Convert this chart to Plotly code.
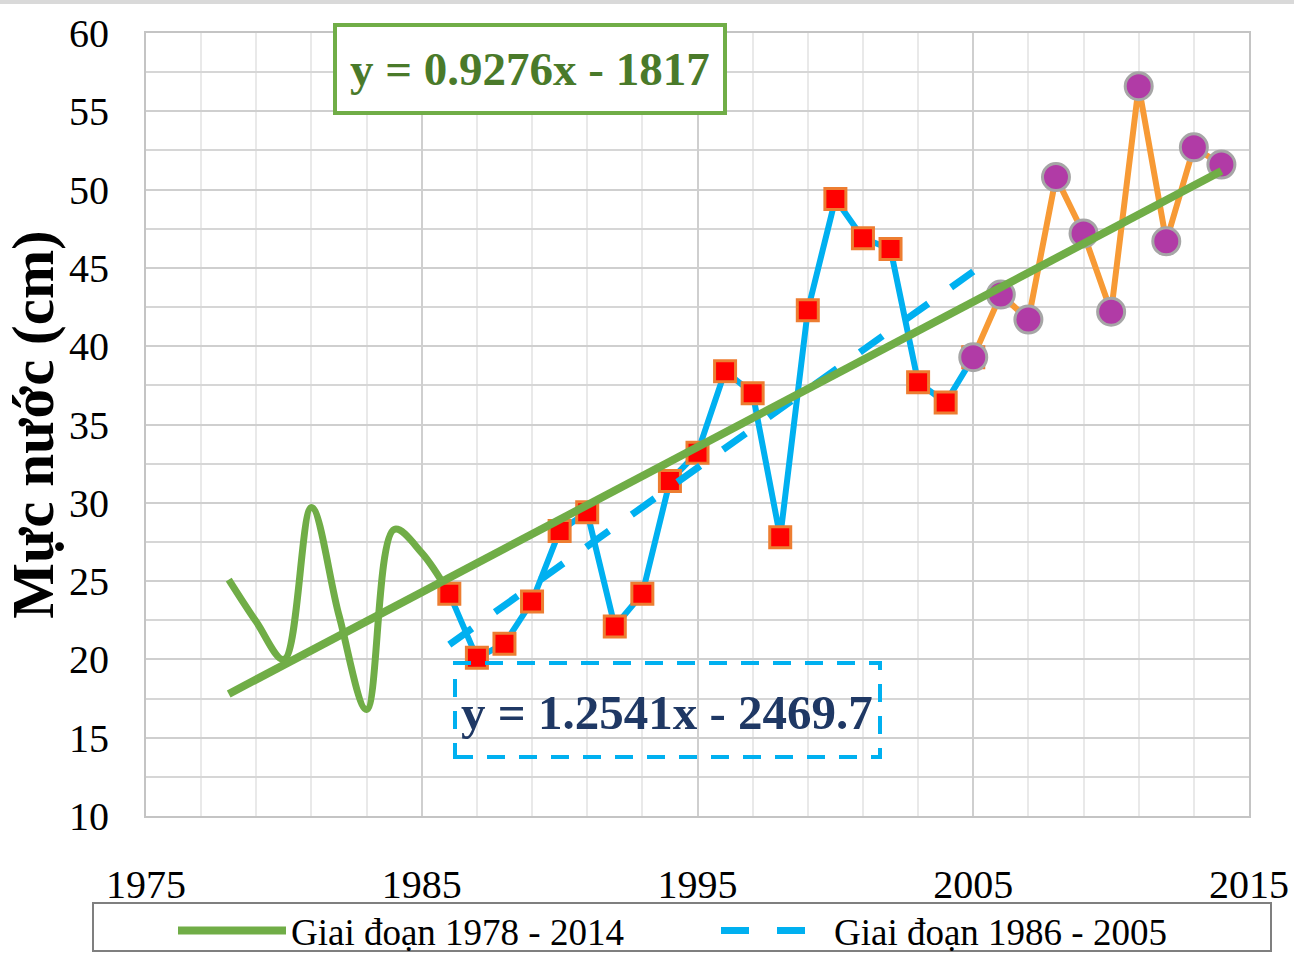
import plotly.graph_objects as go

FONT = "Liberation Serif, Times New Roman, serif"

# ---- data ----
years_early = [1978, 1979, 1980, 1981, 1982, 1983, 1984, 1985, 1986]
level_early = [25.1, 22.4, 20.0, 29.7, 22.8, 16.8, 28.3, 26.8, 24.2]

years_mid = [1986, 1987, 1988, 1989, 1990, 1991, 1992, 1993, 1994, 1995,
             1996, 1997, 1998, 1999, 2000, 2001, 2002, 2003, 2004, 2005]
level_mid = [24.2, 20.1, 21.0, 23.7, 28.2, 29.4, 22.1, 24.2, 31.4, 33.2,
             38.4, 37.0, 27.8, 42.3, 49.4, 46.9, 46.2, 37.7, 36.4, 39.3]

years_late = [2005, 2006, 2007, 2008, 2009, 2010, 2011, 2012, 2013, 2014]
level_late = [39.3, 43.3, 41.7, 50.8, 47.2, 42.2, 56.6, 46.7, 52.7, 51.6]

trend_all = {"slope": 0.9276, "intercept": -1817.0, "years": [1978, 2014]}
trend_sub = {"slope": 1.2541, "intercept": -2469.7, "years": [1986, 2005]}

legend_names = ["Giai đoạn 1978 - 2014", "Giai đoạn 1986 - 2005"]
y_title = "Mực nước (cm)"
x_ticks = [1975, 1985, 1995, 2005, 2015]
y_ticks = [10, 15, 20, 25, 30, 35, 40, 45, 50, 55, 60]


def trend_values(t):
    return [t["slope"] * yr + t["intercept"] for yr in t["years"]]


def eq_text(t):
    return f"y = {t['slope']}x - {abs(t['intercept']):g}"


fig = go.Figure()

# early period (smoothed green line)
fig.add_trace(go.Scatter(
    x=years_early, y=level_early, mode="lines",
    line=dict(color="#70AD47", width=7, shape="spline", smoothing=1.0),
    showlegend=False, hoverinfo="x+y"))

# 1986-2005 series
fig.add_trace(go.Scatter(
    x=years_mid, y=level_mid, mode="lines+markers",
    line=dict(color="#00B0F0", width=6),
    marker=dict(symbol="square", size=21, color="#FF0000",
                line=dict(color="#ED7D31", width=3)),
    showlegend=False))

# 2005-2014 series
fig.add_trace(go.Scatter(
    x=years_late, y=level_late, mode="lines+markers",
    line=dict(color="#F79A35", width=6),
    marker=dict(symbol="circle", size=27, color="#B13BA6",
                line=dict(color="#A6A6A6", width=3)),
    showlegend=False))

# trend 1986-2005 (dashed)
fig.add_trace(go.Scatter(
    x=trend_sub["years"], y=trend_values(trend_sub), mode="lines",
    name=legend_names[1],
    line=dict(color="#00B0F0", width=7, dash="28px,28px")))

# trend 1978-2014
fig.add_trace(go.Scatter(
    x=trend_all["years"], y=trend_values(trend_all), mode="lines",
    name=legend_names[0],
    line=dict(color="#70AD47", width=8)))

L, R, T, B = 146, 45, 33, 140
W, H = 1294, 956
pw, ph = W - L - R, H - T - B


def px_x(p):
    return (p - L) / pw


def px_y(p):
    return (H - B - p) / ph


fig.update_layout(
    width=W, height=H,
    margin=dict(l=L, r=R, t=T, b=B, autoexpand=False),
    paper_bgcolor="white", plot_bgcolor="white",
    font=dict(family=FONT, size=40, color="black"),
    showlegend=True,
    legend=dict(orientation="h", x=px_x(93), xanchor="left",
                y=px_y(900), yanchor="top",
                borderwidth=0, bgcolor="rgba(0,0,0,0)",
                font=dict(family=FONT, size=37, color="black"),
                traceorder="reversed", itemwidth=108, indentation=80,
                entrywidth=340, entrywidthmode="pixels"),
    xaxis=dict(range=[1975, 2015], tickvals=x_ticks,
               ticktext=[str(v) for v in x_ticks],
               showgrid=True, gridcolor="#CFCFCF", gridwidth=2,
               minor=dict(dtick=2, tick0=1975, showgrid=True,
                          gridcolor="#E9E9E9", gridwidth=1.5),
               showline=True, linecolor="#C4C4C4", linewidth=2, mirror=True,
               ticks="", ticklabelstandoff=32, zeroline=False,
               tickfont=dict(family=FONT, size=40)),
    yaxis=dict(range=[10, 60], tickvals=y_ticks,
               showgrid=True, gridcolor="#CFCFCF", gridwidth=2,
               minor=dict(dtick=2.5, tick0=10, showgrid=True,
                          gridcolor="#D6D6D6", gridwidth=2),
               showline=True, linecolor="#C4C4C4", linewidth=2, mirror=True,
               ticks="", ticklabelstandoff=27, zeroline=False,
               tickfont=dict(family=FONT, size=40),
               title=dict(text="<b>" + y_title + "</b>", standoff=6,
                          font=dict(family=FONT, size=59, color="black"))),
)

# legend frame
fig.add_shape(type="rect", xref="paper", yref="paper",
              x0=px_x(93), x1=px_x(1271), y0=px_y(951), y1=px_y(903),
              line=dict(color="#7F7F7F", width=2), fillcolor="white",
              layer="below")

# top border band of the picture
fig.add_shape(type="rect", xref="paper", yref="paper",
              x0=px_x(0), x1=px_x(W), y0=px_y(4), y1=px_y(0),
              fillcolor="#D9D9D9", line=dict(width=0), layer="above")

# equation boxes
fig.add_shape(type="rect", xref="paper", yref="paper",
              x0=px_x(335), x1=px_x(725), y0=px_y(113), y1=px_y(25),
              line=dict(color="#70AD47", width=4), fillcolor="white",
              layer="above")
fig.add_annotation(xref="paper", yref="paper", x=px_x(530), y=px_y(69),
                   xanchor="center", yanchor="middle",
                   text="<b>" + eq_text(trend_all) + "</b>", showarrow=False,
                   font=dict(family=FONT, size=47, color="#4A7A2A"))

fig.add_shape(type="rect", xref="paper", yref="paper",
              x0=px_x(455), x1=px_x(880), y0=px_y(757), y1=px_y(663),
              line=dict(color="#00B0F0", width=4, dash="18px,14px"),
              layer="above")
fig.add_annotation(xref="paper", yref="paper", x=px_x(667), y=px_y(712),
                   xanchor="center", yanchor="middle",
                   text="<b>" + eq_text(trend_sub) + "</b>", showarrow=False,
                   font=dict(family=FONT, size=49, color="#1F3864"))

fig.write_html(
    "out.html",
    config={"displayModeBar": False},
    post_script="document.body.style.margin='0px';"
                "document.body.style.padding='0px';"
                "document.body.style.overflow='hidden';")
